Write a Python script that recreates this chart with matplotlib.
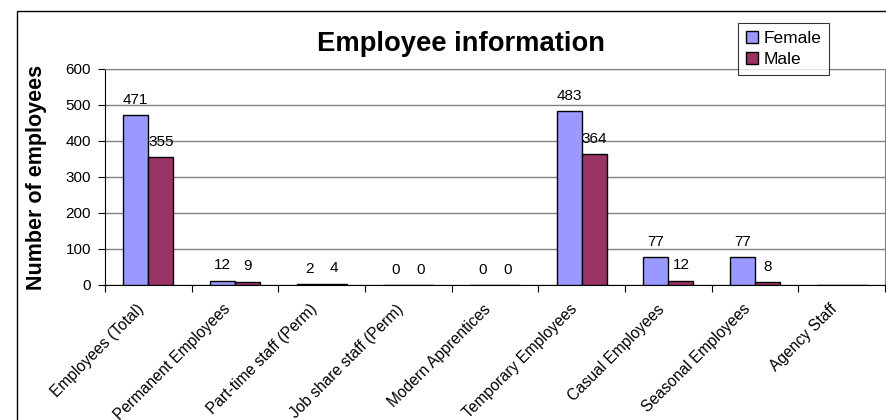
import numpy as np
import matplotlib.pyplot as plt
from matplotlib.patches import Rectangle
from matplotlib.transforms import ScaledTranslation

plt.rcParams['font.family'] = ['Liberation Sans', 'DejaVu Sans']

# data
categories = ["Employees (Total)", "Permanent Employees", "Part-time staff (Perm)",
              "Job share staff (Perm)", "Modern Apprentices", "Temporary Employees",
              "Casual Employees", "Seasonal Employees", "Agency Staff"]
female = [471, 12, 2, 0, 0, 483, 77, 77, None]
male = [355, 9, 4, 0, 0, 364, 12, 8, None]
yticks = [0, 100, 200, 300, 400, 500, 600]

fig = plt.figure(figsize=(8.86, 4.2), dpi=100)
ax = fig.add_axes([105 / 886, 1 - 285 / 420, 780 / 886, 216 / 420])

x = np.arange(len(categories))
w = 0.29
f_vals = [v if v is not None else 0 for v in female]
m_vals = [v if v is not None else 0 for v in male]

ax.bar(x - w / 2, f_vals, w, color="#9999FF", edgecolor="black", linewidth=1.0,
       label="Female", zorder=3)
ax.bar(x + w / 2, m_vals, w, color="#993366", edgecolor="black", linewidth=1.0,
       label="Male", zorder=3)

# value labels
for i in range(len(categories)):
    if female[i] is not None:
        ax.annotate(str(female[i]), (x[i] - w / 2, female[i]), xytext=(0, 6),
                    textcoords="offset points", ha="center", va="bottom", fontsize=11)
    if male[i] is not None:
        ax.annotate(str(male[i]), (x[i] + w / 2, male[i]), xytext=(0, 6),
                    textcoords="offset points", ha="center", va="bottom", fontsize=11)

ax.set_xlim(-0.5, len(categories) - 0.5)
ax.set_ylim(0, 600)
ax.set_yticks(yticks)
ax.tick_params(axis="y", direction="out", length=5, labelsize=11, pad=5)

ax.set_xticks(np.arange(-0.5, len(categories), 1.0))
ax.set_xticklabels([])
ax.tick_params(axis="x", which="major", direction="out", length=5)
ax.set_xticks(x, minor=True)
ax.set_xticklabels(categories, minor=True, rotation=45, ha="right",
                   rotation_mode="anchor", fontsize=11.2)
ax.tick_params(axis="x", which="minor", length=0, pad=12)
shift = ScaledTranslation(-0.12, 0, fig.dpi_scale_trans)
for lab in ax.get_xticklabels(minor=True):
    lab.set_transform(lab.get_transform() + shift)

ax.yaxis.grid(True, color="#808080", linewidth=1.0, zorder=0)
ax.spines["top"].set_color("#808080")
ax.spines["right"].set_color("#808080")
ax.spines["left"].set_color("black")
ax.spines["bottom"].set_color("black")

fig.text(37 / 886, 1 - 177 / 420, "Number of employees", rotation=90, ha="center",
         va="center", fontsize=15.5, fontweight="bold")

fig.text(461 / 886, 1 - 44 / 420, "Employee information", ha="center", va="center",
         fontsize=19.7, fontweight="bold")

leg = fig.legend(loc="upper left", bbox_to_anchor=(738 / 886, 1 - 23 / 420),
                 fontsize=12.5, frameon=True, fancybox=False, edgecolor="black",
                 handlelength=0.7, handleheight=0.7, handletextpad=0.3,
                 borderpad=0.45, labelspacing=0.35, borderaxespad=0)
leg.get_frame().set_linewidth(0.8)

# outer chart frame
fig.patches.append(Rectangle((17 / 886, -0.1), 1.0, 1 - 11 / 420 + 0.1,
                             transform=fig.transFigure, fill=False,
                             edgecolor="black", linewidth=1.0))

fig.savefig("out.png", dpi=100)
